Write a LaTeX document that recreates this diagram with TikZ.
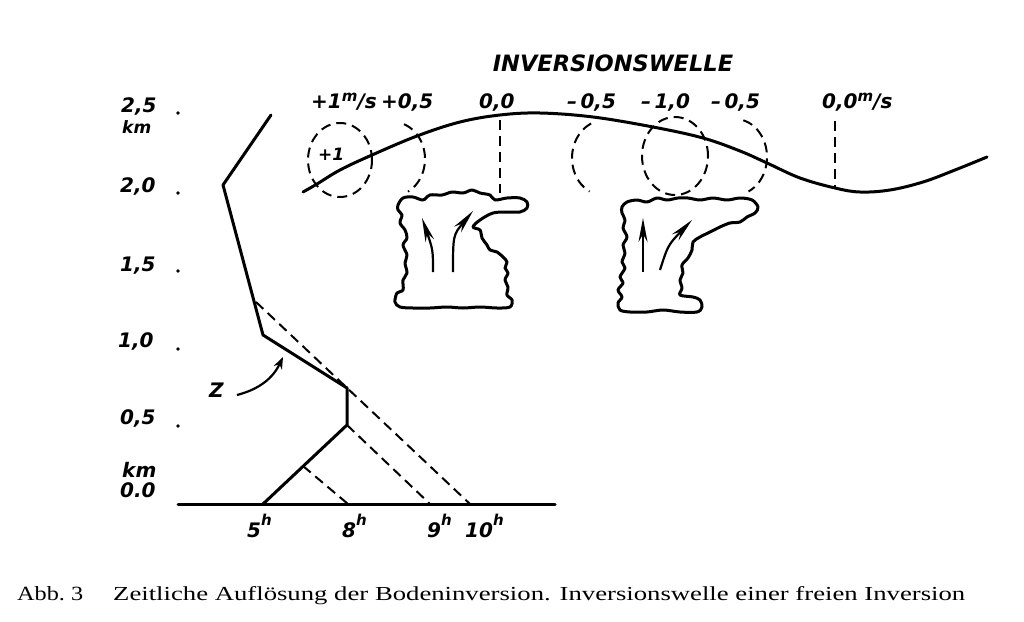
\documentclass[tikz,border=0pt]{standalone}
\usepackage{fontspec}
\newfontfamily\labfont{DejaVu Sans}
\newfontfamily\capfont{Liberation Serif}
\usetikzlibrary{arrows.meta}
\newcommand{\Sup}[2]{\raisebox{#1}{\fontsize{15}{15}\selectfont #2}}
\begin{document}
\begin{tikzpicture}[x=1pt,y=-1pt,
  lab/.style={font=\labfont\bfseries\itshape\fontsize{20}{20}\selectfont, inner sep=0pt, anchor=base west},
  smalllab/.style={lab, font=\labfont\bfseries\itshape\fontsize{17}{17}\selectfont},
  prof/.style={line width=3pt, line join=round, line cap=round},
  dsh/.style={line width=2pt, dash pattern=on 10pt off 6pt},
  cloudline/.style={line width=3pt, line join=round},
  updraft/.style={line width=2.2pt, -{Stealth[length=24pt,width=9pt]}},
  tick/.style={fill, circle, inner sep=0pt, minimum size=3.6pt},
]
\fill[white] (0,0) rectangle (1024,621);
\useasboundingbox (0,0) rectangle (1024,621);

% ---------- height axis labels ----------
\node[lab] (l25) at (121,112) {2,5};
\node[smalllab] (lkmA) at (122,133) {km};
\node[lab] (l20) at (120,192) {2,0};
\node[lab] (l15) at (120,271) {1,5};
\node[lab] (l10) at (118,347) {1,0};
\node[lab] (l05) at (120,424) {0,5};
\node[lab] (lkmB) at (122,477) {km};
\node[lab] (l00) at (120,497) {0.0};
\node[tick] (d25) at (178,113) {};
\node[tick] (d20) at (178,193) {};
\node[tick] (d15) at (178,271) {};
\node[tick] (d10) at (178,349) {};
\node[tick] (d05) at (178,426) {};

% ---------- ground ----------
\coordinate (g0) at (178,504);
\coordinate (g1) at (555,504);
\draw[prof] (g0) -- (g1);

% ---------- time labels ----------
\node[lab] (t5)  at (247,537) {5\Sup{12pt}{h}};
\node[lab] (t8)  at (342,537) {8\Sup{12pt}{h}};
\node[lab] (t9)  at (427,537) {9\Sup{12pt}{h}};
\node[lab] (t10) at (465,537) {10\Sup{12pt}{h}};

% ---------- temperature profile ----------
\coordinate (p1) at (271,115);
\coordinate (p2) at (223,185);
\coordinate (p3) at (263,335);
\coordinate (p4) at (347,388);
\coordinate (p5) at (347,425);
\coordinate (p6) at (263,504);
\draw[prof] (p1) -- (p2) -- (p3) -- (p4) -- (p5) -- (p6);

\coordinate (a0) at (256,302);
\coordinate (a1) at (470,504);
\coordinate (b1) at (430,504);
\coordinate (c0) at (303,466);
\coordinate (c1) at (348,504);
\draw[dsh] (a0) -- (a1);
\draw[dsh] (p5) -- (b1);
\draw[dsh] (c0) -- (c1);

% ---------- Z arrow ----------
\node[lab] (z) at (209,397) {Z};
\coordinate (zs) at (237,395);
\coordinate (ze) at (283,357);
\draw[line width=2.2pt, -{Stealth[length=12pt,width=9pt]}] (zs) to[bend right=25] (ze);

% ---------- title ----------
\node[lab, anchor=center, font=\labfont\bfseries\itshape\fontsize{22.5}{22.5}\selectfont] (title) at (613,63) {INVERSIONSWELLE};

% ---------- wave labels ----------
\node[lab] (w1) at (311,108) {+1\Sup{7pt}{m}/s};
\node[lab] (w2) at (381,108) {+0,5};
\node[lab] (w3) at (479,108) {0,0};
\node[lab] (w4) at (567,108) {–\,0,5};
\node[lab] (w5) at (641,108) {–\,1,0};
\node[lab] (w6) at (711,108) {–\,0,5};
\node[lab] (w7) at (822,108) {0,0\Sup{7pt}{m}/s};

% ---------- inversion wave ----------
\draw[prof] plot[smooth, tension=0.6] coordinates {(303,192) (317,184) (340,170) (372,155) (417,136) (460,122) (500,115) (540,113) (593,117) (653,127) (703,138) (740,151) (767,163) (800,178) (835,188) (860,192) (890,190) (923,182) (955,170) (987,157)};

% dashed verticals
\coordinate (v1a) at (500,120);
\coordinate (v1b) at (500,193);
\coordinate (v2a) at (835,121);
\coordinate (v2b) at (835,187);
\draw[dsh] (v1a) -- (v1b);
\draw[dsh] (v2a) -- (v2b);

% dashed circles and arcs
\coordinate (e1) at (340,160);
\coordinate (e2) at (393,159);
\coordinate (e3) at (605,158);
\coordinate (e4) at (675,156);
\coordinate (e5) at (735,157);
\draw[dsh] (e1) ellipse [x radius=32pt, y radius=37pt];
\draw[dsh] (e2) ++(70:32pt and 37pt) arc[start angle=70, end angle=-62, x radius=32pt, y radius=37pt];
\draw[dsh] (e3) ++(115:33pt and 38pt) arc[start angle=115, end angle=242, x radius=33pt, y radius=38pt];
\draw[dsh] (e4) ellipse [x radius=33pt, y radius=39pt];
\draw[dsh] (e5) ++(75:32pt and 38pt) arc[start angle=75, end angle=-65, x radius=32pt, y radius=38pt];
\node[smalllab] (plus1) at (318,160) {+1};

% ---------- cloud 1 ----------
\draw[cloudline] plot[smooth cycle, tension=0.55] coordinates {
 (398,205) (403,198) (413,197) (423,200) (430,195) (442,195) (452,192) (463,193) (472,190) (480,193) (490,195) (495,200) (507,198) (520,198) (527,202) (527,208) (520,212) (507,212) (493,213) (480,220) (473,227) (480,230) (482,238) (487,245) (490,250) (497,252) (503,257) (507,262) (505,268) (508,273) (505,280) (508,287) (507,295) (512,300) (510,307)
 (497,308) (480,307) (463,308) (447,307) (430,308) (413,308) (400,307) (395,302)
 (397,293) (403,290) (403,280) (407,273) (405,263) (407,255) (403,245) (407,238) (405,230) (400,223) (402,215) (398,210)};
\coordinate (c1l0) at (433,272);
\coordinate (c1l1) at (422,218);
\coordinate (c1r0) at (453,272);
\coordinate (c1r1) at (473,211);
\draw[updraft] (c1l0) .. controls (433,250) .. (c1l1);
\draw[updraft] (c1r0) .. controls (453,235) .. (c1r1);

% ---------- cloud 2 ----------
\draw[cloudline] plot[smooth cycle, tension=0.55] coordinates {
 (622,207) (627,202) (637,200) (647,202) (657,198) (667,200) (678,198) (688,198) (700,200) (713,198) (727,200) (740,198) (752,200) (758,207) (755,213) (747,217) (740,222) (730,223) (720,227) (710,232) (700,237) (693,242) (692,250) (688,258) (682,265) (683,273) (680,280) (682,288) (680,295) (693,297) (700,300) (702,307) (697,312)
 (680,312) (663,310) (647,312) (630,312) (620,310) (618,303) (622,297) (618,290) (623,283) (620,277) (625,268) (622,262) (625,253) (623,245) (627,237) (623,228) (625,220) (622,213)};
\coordinate (c2l0) at (643,272);
\coordinate (c2l1) at (643,218);
\coordinate (c2r0) at (660,270);
\coordinate (c2r1) at (692,220);
\draw[updraft] (c2l0) -- (c2l1);
\draw[updraft] (c2r0) .. controls (668,245) .. (c2r1);

% ---------- caption ----------
\node[inner sep=0pt, anchor=base west] (abb) at (17,600) {\resizebox{66pt}{14pt}{\capfont Abb.\ 3}};
\node[inner sep=0pt, anchor=base west] (cap) at (113,600) {\resizebox{852pt}{14pt}{\capfont Zeitliche Auflösung der Bodeninversion. Inversionswelle einer freien Inversion}};
\end{tikzpicture}
\end{document}
